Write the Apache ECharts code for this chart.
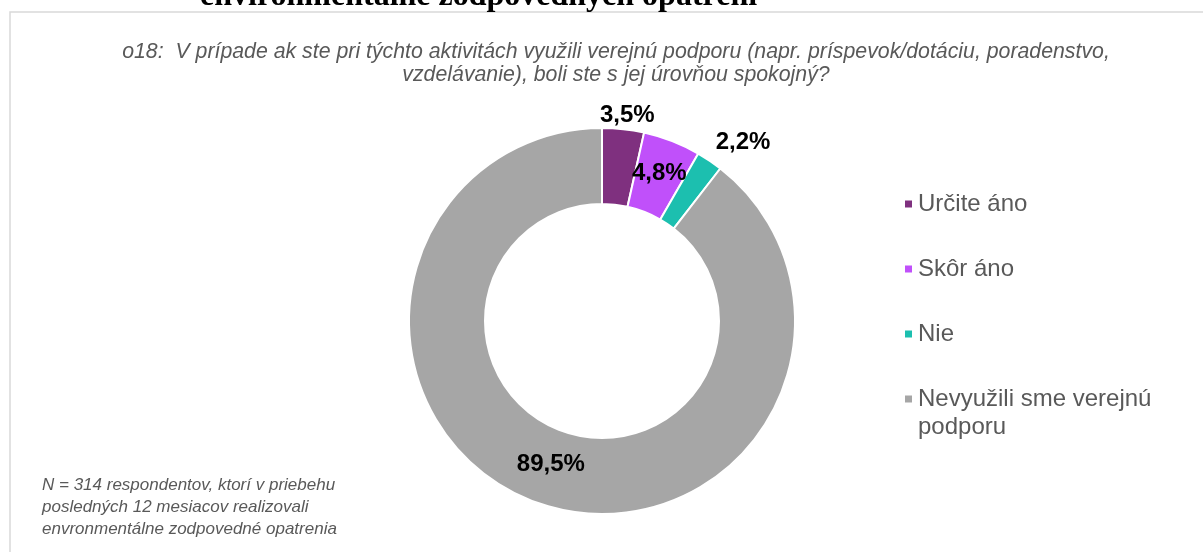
<!DOCTYPE html>
<html><head><meta charset="utf-8">
<script src="https://cdn.jsdelivr.net/npm/echarts@6/dist/echarts.min.js"></script>
<style>html,body{margin:0;padding:0;background:#fff}#c{width:1203px;height:552px}</style>
</head><body><div id="c"></div>
<script>
const categories = ['Určite áno', 'Skôr áno', 'Nie', 'Nevyužili sme verejnú podporu'];
const values = [3.5, 4.8, 2.2, 89.5];
const colors = ['#7F307F', '#C050FA', '#1CBFAF', '#A6A6A6'];
const subtitle = 'o18:  V prípade ak ste pri týchto aktivitách využili verejnú podporu (napr. príspevok/dotáciu, poradenstvo,\nvzdelávanie), boli ste s jej úrovňou spokojný?';
const footnote = 'N = 314 respondentov, ktorí v priebehu\nposledných 12 mesiacov realizovali\nenvronmentálne zodpovedné opatrenia';
const topTitle = 'environmentálne zodpovedných opatrení';

const labelOffsets = [[8, -49], [0, 0], [53, -47], [0, -6]];
const legendLines = {'Nevyužili sme verejnú podporu': ['Nevyužili sme verejnú', 'podporu']};
const chart = echarts.init(document.getElementById('c'));
chart.setOption({
  animation: false,
  title: {
    text: subtitle, left: 611, top: 36, textAlign: 'center',
    textStyle: {fontFamily: 'Liberation Sans, Arial', fontStyle: 'italic', fontWeight: 'normal', fontSize: 21.3, color: '#595959', lineHeight: 23}
  },
  legend: {
    orient: 'vertical', left: 903, top: 171, padding: 0, icon: 'rect', itemWidth: 9, itemHeight: 9, itemGap: -1,
    formatter: name => {
      const l = legendLines[name];
      return l ? '{s| }\n{a|' + l[0] + '}\n{a|' + l[1] + '}' : '{s| }\n{a|' + name + '}\n{s| }';
    },
    textStyle: {
      fontFamily: 'Liberation Sans, Arial', fontSize: 24, color: '#595959',
      rich: {a: {fontFamily: 'Liberation Sans, Arial', fontSize: 24, color: '#595959', lineHeight: 28}, s: {fontSize: 10, lineHeight: 28}}
    },
    data: categories
  },
  graphic: [
    {type: 'rect', shape: {x: 10, y: 12, width: 1300, height: 700}, style: {fill: 'none', stroke: '#D9D9D9', lineWidth: 1.5}, silent: true, z: -10},
    {type: 'text', x: 200, y: -3, style: {text: topTitle, font: 'bold 32px "Liberation Serif", "Times New Roman", serif', fill: '#000', verticalAlign: 'middle'}},
    {type: 'text', left: 42, top: 474, style: {text: footnote, font: 'italic 17px "Liberation Sans", Arial', fill: '#595959', lineHeight: 22}}
  ],
  series: [{
    type: 'pie', center: [602, 321], radius: [117, 193], startAngle: 90, clockwise: true,
    itemStyle: {borderColor: '#fff', borderWidth: 2},
    label: {position: 'inside', formatter: p => String(p.value).replace('.', ',') + '%', fontFamily: 'Liberation Sans, Arial', fontWeight: 'bold', fontSize: 24, color: '#000'},
    labelLine: {show: false},
    labelLayout: p => ({dx: labelOffsets[p.dataIndex][0], dy: labelOffsets[p.dataIndex][1]}),
    emphasis: {disabled: true},
    data: categories.map((n, i) => ({name: n, value: values[i], itemStyle: {color: colors[i]}}))
  }]
});
</script></body></html>
